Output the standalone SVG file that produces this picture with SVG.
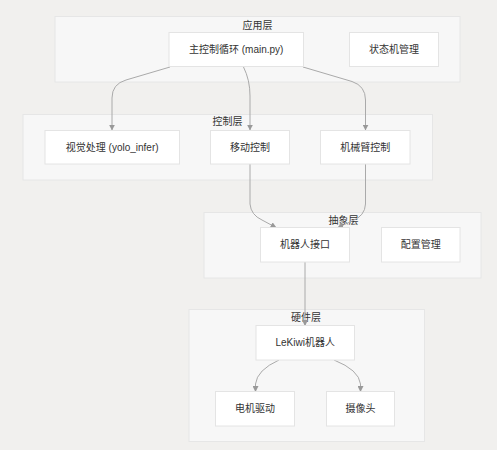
<svg xmlns="http://www.w3.org/2000/svg" width="497" height="450" viewBox="0 0 497 450">
<style>
.bg{fill:#f1f0ee}
.cl{fill:#f7f7f7;stroke:#e6e6e6;stroke-width:1}
.nd{fill:#ffffff;stroke:#e4e4e4;stroke-width:1}
text{font-family:"Liberation Sans","Noto Sans CJK SC",sans-serif;font-size:10px;fill:#333;text-anchor:middle;dominant-baseline:central}
.ed{fill:none;stroke:#aaaaaa;stroke-width:1}
</style>
<defs>
<marker id="ah" viewBox="0 0 10 10" refX="9" refY="5" markerWidth="6" markerHeight="6" orient="auto-start-reverse" markerUnits="userSpaceOnUse">
<path d="M0,0 L10,5 L0,10 z" fill="#999"/>
</marker>
</defs>
<rect class="bg" x="0" y="0" width="497" height="450"/>
<g id="cluster-app"><rect class="cl" x="55" y="16.5" width="405" height="65.5"/><text x="257.5" y="25">应用层</text></g>
<g id="cluster-ctrl"><rect class="cl" x="23" y="114.5" width="409.5" height="65.5"/><text x="227.5" y="121.5">控制层</text></g>
<g id="cluster-abs"><rect class="cl" x="204" y="212.5" width="277" height="65.5"/><text x="343.5" y="220">抽象层</text></g>
<g id="cluster-hw"><rect class="cl" x="189" y="309.5" width="235.5" height="132"/><text x="306" y="317.5">硬件层</text></g>

<g id="connectors">
<path class="ed" d="M170,67 L126,80 Q112,84 112,98 L112,130" marker-end="url(#ah)"/>
<path class="ed" d="M243.5,67 Q250,80 250,96 L250,130" marker-end="url(#ah)"/>
<path class="ed" d="M303,67 L352,81.5 Q365.5,86 365.5,100 L365.5,130" marker-end="url(#ah)"/>
<path class="ed" d="M250,164 L250,204 Q251,215 262,220 L276,227.5" marker-end="url(#ah)"/>
<path class="ed" d="M365.5,164 L365.5,204 Q365,216 352,221 L338,227.5" marker-end="url(#ah)"/>
<path class="ed" d="M305,262 L305,325.5" marker-end="url(#ah)"/>
<path class="ed" d="M279,360 Q257,370 255.5,384 L255.5,391.5" marker-end="url(#ah)"/>
<path class="ed" d="M334,360 Q359,370 360.5,384 L360.5,391.5" marker-end="url(#ah)"/>
</g>

<g id="n-main"><rect class="nd" x="169" y="32.5" width="134.5" height="34"/><text x="236.2" y="49.5">主控制循环 (main.py)</text></g>
<g id="n-fsm"><rect class="nd" x="349.5" y="32.5" width="89" height="34"/><text x="394" y="49.5">状态机管理</text></g>
<g id="n-vision"><rect class="nd" x="45" y="130.5" width="134.5" height="33.5"/><text x="112.2" y="147.3">视觉处理 (yolo_infer)</text></g>
<g id="n-move"><rect class="nd" x="210.5" y="130.5" width="79" height="33.5"/><text x="250" y="147.3">移动控制</text></g>
<g id="n-arm"><rect class="nd" x="320.5" y="130.5" width="89.5" height="33.5"/><text x="365.3" y="147.3">机械臂控制</text></g>
<g id="n-robot"><rect class="nd" x="260.5" y="227.5" width="89" height="34.5"/><text x="305" y="244.7">机器人接口</text></g>
<g id="n-config"><rect class="nd" x="381.5" y="227.5" width="78.5" height="34.5"/><text x="420.7" y="244.7">配置管理</text></g>
<g id="n-lekiwi"><rect class="nd" x="256" y="325.5" width="98.5" height="34.5"/><text x="305.2" y="342.7">LeKiwi机器人</text></g>
<g id="n-motor"><rect class="nd" x="215.5" y="391.5" width="79" height="34.5"/><text x="255" y="408.7">电机驱动</text></g>
<g id="n-cam"><rect class="nd" x="326.5" y="391.5" width="68" height="34.5"/><text x="360.5" y="408.7">摄像头</text></g>
</svg>
